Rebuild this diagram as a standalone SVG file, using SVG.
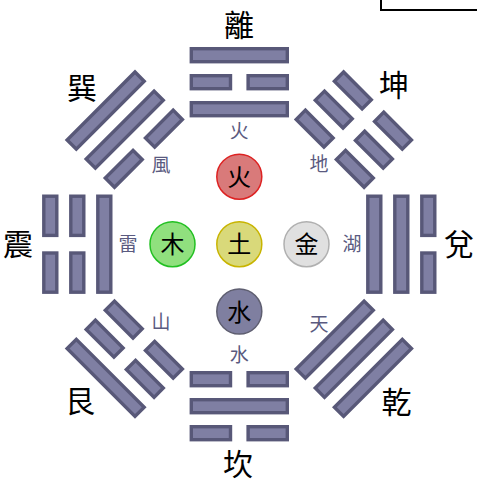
<svg xmlns="http://www.w3.org/2000/svg" xmlns:xlink="http://www.w3.org/1999/xlink" width="477" height="484" viewBox="0 0 477 484">
<style>
.bar{fill:#7f7fa3;stroke:#585878;stroke-width:3.4}
.big{font-family:"Noto Sans CJK TC","Noto Sans CJK SC",sans-serif;font-size:30px;fill:#000;text-anchor:middle}
.sm{font-family:"Noto Sans CJK TC","Noto Sans CJK SC",sans-serif;font-size:19px;fill:#5a5a80;text-anchor:middle}
.el{font-family:"Noto Sans CJK TC","Noto Sans CJK SC",sans-serif;font-size:24px;fill:#000;text-anchor:middle}
.c{stroke-width:1.5}
</style>
<defs>
<rect id="s" class="bar" x="-48" y="-6.5" width="96" height="13"/>
<g id="b"><rect class="bar" x="-48" y="-6.5" width="39.2" height="13"/><rect class="bar" x="8.8" y="-6.5" width="39.2" height="13"/></g>
</defs>
<rect width="477" height="484" fill="#fff"/>
<path d="M381 0V10H477" fill="none" stroke="#000" stroke-width="2"/>
<g id="connectors"></g>
<g id="li" transform="translate(239.3,244.2) rotate(0)"><use xlink:href="#s" y="-135"/><use xlink:href="#b" y="-162"/><use xlink:href="#s" y="-189"/></g>
<g id="kun" transform="translate(239.3,244.2) rotate(45)"><use xlink:href="#b" y="-135"/><use xlink:href="#b" y="-162"/><use xlink:href="#b" y="-189"/></g>
<g id="dui" transform="translate(239.3,244.2) rotate(90)"><use xlink:href="#s" y="-135"/><use xlink:href="#s" y="-162"/><use xlink:href="#b" y="-189"/></g>
<g id="qian" transform="translate(239.3,244.2) rotate(135)"><use xlink:href="#s" y="-135"/><use xlink:href="#s" y="-162"/><use xlink:href="#s" y="-189"/></g>
<g id="kan" transform="translate(239.3,244.2) rotate(180)"><use xlink:href="#b" y="-135"/><use xlink:href="#s" y="-162"/><use xlink:href="#b" y="-189"/></g>
<g id="gen" transform="translate(239.3,244.2) rotate(225)"><use xlink:href="#b" y="-135"/><use xlink:href="#b" y="-162"/><use xlink:href="#s" y="-189"/></g>
<g id="zhen" transform="translate(239.3,244.2) rotate(270)"><use xlink:href="#s" y="-135"/><use xlink:href="#b" y="-162"/><use xlink:href="#b" y="-189"/></g>
<g id="xun" transform="translate(239.3,244.2) rotate(315)"><use xlink:href="#b" y="-135"/><use xlink:href="#s" y="-162"/><use xlink:href="#s" y="-189"/></g>
<g id="labels-outer">
<text class="big" x="239" y="36.4">離</text>
<text class="big" x="394" y="96.4">坤</text>
<text class="big" x="459" y="255.4">兌</text>
<text class="big" x="396.5" y="413.4">乾</text>
<text class="big" x="238" y="475">坎</text>
<text class="big" x="80" y="412.4">艮</text>
<text class="big" x="18" y="255.4">震</text>
<text class="big" x="82" y="99.4">巽</text>
</g>
<g id="labels-inner">
<text class="sm" x="239.3" y="138.2">火</text>
<text class="sm" x="319" y="171.2">地</text>
<text class="sm" x="352" y="251.2">湖</text>
<text class="sm" x="319" y="331.2">天</text>
<text class="sm" x="239.3" y="362.2">水</text>
<text class="sm" x="161" y="329.2">山</text>
<text class="sm" x="128" y="251.2">雷</text>
<text class="sm" x="161" y="172.2">風</text>
</g>
<g id="fire"><circle class="c" cx="239.3" cy="176.7" r="22.5" fill="#d97a7a" stroke="#dd2222"/><text class="el" x="239.3" y="185.8">火</text></g>
<g id="wood"><circle class="c" cx="172.5" cy="244.2" r="22.5" fill="#90e07e" stroke="#22c022"/><text class="el" x="172.5" y="253.3">木</text></g>
<g id="earth"><circle class="c" cx="239.3" cy="244.2" r="22.5" fill="#d9d97a" stroke="#c8b400"/><text class="el" x="239.3" y="253.3">土</text></g>
<g id="metal"><circle class="c" cx="306.5" cy="244.2" r="22.5" fill="#e0e0e0" stroke="#b0b0b0"/><text class="el" x="306.5" y="253.3">金</text></g>
<g id="water"><circle class="c" cx="239.3" cy="311.5" r="22.5" fill="#7f7fa0" stroke="#5e5e70"/><text class="el" x="239.3" y="320.6">水</text></g>
</svg>
